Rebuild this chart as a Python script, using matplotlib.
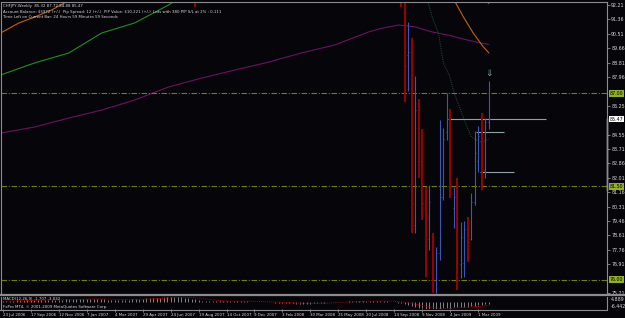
import matplotlib
matplotlib.use('Agg')
import matplotlib.pyplot as plt

# ---- data (week index 0 = 23 Jul 2006) ----
bar_week = [55, 114, 115, 116, 117, 118, 119, 120, 121, 122, 123, 124, 125, 126,
            127, 128, 129, 130, 131, 132, 133, 134, 135, 136, 137, 138, 139]
bar_open = [99.0, 97.0, 94.5, 89.26, 89.4, 79.2, 86.0, 83.0, 80.6, 78.4, 78.6, 76.0, 77.6, 80.9,
            84.71, 85.5, 80.2, 80.9, 76.92, 77.0, 79.05, 78.4, 80.6, 83.0, 84.8, 82.5, 85.32]
bar_high = [99.6, 97.6, 95.0, 91.21, 90.26, 88.02, 86.66, 84.89, 81.47, 81.58, 78.75, 77.92, 85.42, 84.95,
            87.02, 86.07, 81.47, 82.0, 79.4, 79.46, 79.7, 81.11, 84.77, 85.07, 85.83, 85.54, 87.72]
bar_low = [92.09, 92.09, 86.48, 87.13, 78.75, 78.75, 82.0, 79.52, 76.15, 77.75, 75.21, 75.21, 77.16, 80.7,
           84.24, 80.82, 79.05, 75.39, 76.1, 76.15, 77.04, 78.34, 80.4, 82.35, 81.29, 82.0, 84.88]
bar_close = [95.0, 94.5, 88.6, 89.44, 80.5, 86.0, 83.0, 80.5, 78.0, 80.6, 76.0, 77.57, 80.88, 84.3,
             85.5, 81.5, 80.88, 77.0, 78.5, 79.0, 78.0, 80.58, 83.5, 84.5, 82.5, 85.3, 85.47]

# moving averages (hidden parts estimated)
ma_purple_w = [-0.6, 9.1, 18.9, 28.3, 37.7, 47.4, 56.9, 66.3, 76, 85.4, 94.9, 104.6, 108.3,
               113.1, 117.7, 122.6, 127.3, 132, 136.9, 139]
ma_purple_v = [84.65, 85.01, 85.54, 86.01, 86.60, 87.37, 87.90, 88.37, 88.84, 89.38, 89.85, 90.62, 90.83,
               91.03, 90.93, 90.63, 90.44, 90.19, 89.95, 89.89]
ma_green_w = [-0.6, 9.1, 18.9, 28.3, 37.7, 47.4, 49.7, 60, 80, 100, 120, 132, 137.5, 139]
ma_green_v = [88.08, 88.79, 89.38, 90.56, 91.15, 92.21, 92.5, 95.5, 98.0, 99.5, 98.5, 95.0, 92.6, 92.3]
ma_orange_w = [-0.6, 4.6, 9.1, 14.0, 19.1, 30, 60, 90, 110, 125, 129.1, 131.7, 134.6, 137.4, 139]
ma_orange_v = [90.56, 91.15, 91.50, 91.92, 92.5, 95.0, 99.5, 101.0, 101.5, 95.0, 92.5, 91.52, 90.54, 89.75, 89.39]
ma_dark_w = [118, 121.4, 123.1, 124.6, 126.0, 127.7, 129.1, 130.6, 132.0, 134.0, 136.0, 137.4, 139]
ma_dark_v = [96.0, 92.5, 91.32, 90.56, 88.79, 88.08, 87.02, 86.19, 85.42, 84.42, 84.18, 84.12, 84.30]

levels = [87.00, 81.50, 76.00]
seg_level = [85.47, 84.71, 82.35]
seg_start = [127.4, 135.4, 136.6]
seg_end = [155.4, 143.4, 146.3]

price_ticks = [92.21, 91.36, 90.51, 89.66, 88.81, 87.96, 86.25, 84.55, 83.71, 82.86,
               82.01, 81.16, 80.31, 79.46, 78.61, 77.76, 76.91, 75.21]
date_week = [0, 8, 16, 24, 32, 40, 48, 56, 64, 72, 80, 88, 96, 104, 112, 120, 128, 136]
date_labels = ['23 Jul 2006', '17 Sep 2006', '12 Nov 2006', '7 Jan 2007', '4 Mar 2007',
               '29 Apr 2007', '24 Jun 2007', '19 Aug 2007', '14 Oct 2007', '9 Dec 2007',
               '3 Feb 2008', '30 Mar 2008', '25 May 2008', '20 Jul 2008', '14 Sep 2008',
               '9 Nov 2008', '4 Jan 2009', '1 Mar 2009']

macd_main = [1.2, 1.3, 1.4, 1.5, 1.6, 1.6, 1.7, 1.8, 1.8, 1.9,
             2.0, 2.1, 2.2, 2.3, 2.3, 2.4, 2.4, 2.5, 2.6, 2.6,
             2.7, 2.9, 3.0, 3.2, 3.3, 3.3, 3.2, 3.0, 2.8, 2.7,
             2.5, 2.2, 2.0, 2.0, 2.1, 2.3, 2.5, 2.7, 2.9, 3.1,
             3.3, 3.5, 3.7, 3.9, 4.1, 4.3, 4.5, 4.7, 4.8, 4.889,
             4.8, 4.6, 4.3, 3.9, 3.4, 2.6, 1.8, 1.4, 1.1, 0.9,
             0.8, 0.8, 0.9, 1.0, 1.1, 1.2, 1.2, 1.1, 1.0, 0.9,
             0.8, 0.6, 0.5, 0.4, 0.3, 0.2, 0.0, -0.2, -0.4, -0.6,
             -0.8, -1.0, -1.1, -1.2, -1.3, -1.4, -1.5, -1.4, -1.3, -1.1,
             -0.9, -0.7, -0.5, -0.3, -0.1, 0.1, 0.3, 0.5, 0.6, 0.8,
             0.9, 1.0, 1.1, 1.2, 1.2, 1.3, 1.3, 1.2, 1.1, 1.0,
             0.8, 0.5, 0.1, -0.5, -1.2, -2.0, -2.8, -3.8, -4.6, -5.2,
             -5.7, -6.1, -6.3, -6.442, -6.4, -6.1, -5.7, -5.3, -5.1, -4.9,
             -4.8, -4.6, -4.4, -4.1, -3.7, -3.2, -2.7, -2.3, -2.0, -1.707]
macd_signal = [1.0, 1.1, 1.1, 1.2, 1.3, 1.3, 1.4, 1.5, 1.5, 1.6,
               1.7, 1.7, 1.8, 1.9, 2.0, 2.1, 2.1, 2.2, 2.3, 2.4,
               2.4, 2.5, 2.6, 2.7, 2.8, 2.9, 3.0, 3.0, 3.0, 3.0,
               2.9, 2.8, 2.7, 2.6, 2.5, 2.4, 2.3, 2.3, 2.4, 2.5,
               2.6, 2.8, 3.0, 3.2, 3.4, 3.6, 3.8, 4.0, 4.2, 4.4,
               4.5, 4.6, 4.6, 4.5, 4.3, 4.1, 3.8, 3.4, 3.0, 2.6,
               2.2, 1.8, 1.4, 1.1, 1.0, 1.0, 1.0, 1.0, 1.0, 1.0,
               1.0, 0.9, 0.8, 0.7, 0.6, 0.5, 0.4, 0.2, 0.1, -0.1,
               -0.3, -0.5, -0.6, -0.8, -0.9, -1.1, -1.2, -1.3, -1.3, -1.3,
               -1.3, -1.2, -1.1, -0.9, -0.7, -0.5, -0.3, -0.1, 0.1, 0.3,
               0.4, 0.6, 0.7, 0.8, 0.9, 1.0, 1.1, 1.1, 1.2, 1.2,
               1.1, 1.0, 0.9, 0.6, 0.3, -0.1, -0.6, -1.2, -1.9, -2.6,
               -3.3, -4.0, -4.6, -5.1, -5.5, -5.8, -5.9, -5.9, -5.8, -5.6,
               -5.4, -5.2, -5.0, -4.8, -4.6, -4.3, -4.0, -3.7, -3.4, -3.032]

BG = '#06050a'
FG = '#d8d8d8'
GRID = '#8c8c8c'
W, H = 625.0, 318.0

fig = plt.figure(figsize=(6.25, 3.18), dpi=100, facecolor=BG)
ax = fig.add_axes([0.5 / W, (H - 294) / H, 606.5 / W, 292 / H], facecolor=BG)
ax2 = fig.add_axes([0.5 / W, (H - 309) / H, 606.5 / W, 12 / H], facecolor=BG)

xmin, xmax = -0.63, 172.8
for a in (ax, ax2):
    a.set_xlim(xmin, xmax)
    for s in a.spines.values():
        s.set_color(GRID)
        s.set_linewidth(0.8)
ax.spines['bottom'].set_visible(False)
ax2.spines['top'].set_visible(False)
ax2.spines['bottom'].set_visible(False)

# panel separator and bottom line across full width
fig.add_artist(plt.Line2D([0, 1], [(H - 295) / H] * 2, color=GRID, lw=1.6))
fig.add_artist(plt.Line2D([0, 607 / W], [(H - 309.5) / H] * 2, color=GRID, lw=0.8))

ax.set_ylim(75.15, 92.39)

# moving averages
ax.plot(ma_purple_w, ma_purple_v, color='#6c1262', lw=0.8)
ax.plot(ma_green_w, ma_green_v, color='#1f8f1f', lw=0.8)
ax.plot(ma_orange_w, ma_orange_v, color='#c4620e', lw=0.8)
ax.plot(ma_dark_w, ma_dark_v, color='#1d4632', lw=0.8, ls=(0, (1, 1)))

# levels
for lv in levels:
    ax.axhline(lv, color='#6f7e12', lw=0.8, ls=(0, (5, 1.5, 1, 1.5)))
ax.hlines(seg_level, seg_start, seg_end, color='#8aa2aa', lw=0.8)

# OHLC bars
for w, o, h, l, c in zip(bar_week, bar_open, bar_high, bar_low, bar_close):
    col = '#3a58b8' if c >= o else '#a80000'
    lw = 0.8 if c >= o else 1.3
    ax.vlines(w, l, h, color=col, lw=lw)
    ax.hlines(o, w - 0.3, w, color=col, lw=0.7)
    ax.hlines(c, w, w + 0.3, color=col, lw=0.7)

ax.text(bar_week[-1], 88.2, r'$\Downarrow$', color='#7a98a8', fontsize=6.5, ha='center', va='center')

# price axis
ax.yaxis.tick_right()
ax.set_yticks(price_ticks)
ax.set_yticklabels(['%.2f' % v for v in price_ticks])
ax.tick_params(axis='y', colors=GRID, labelcolor=FG, labelsize=3.4, length=2, width=0.6, pad=1)
ax.set_xticks([])
for lv in levels:
    ax.text(1.004, lv, '%.2f' % lv, transform=ax.get_yaxis_transform(), fontsize=3.4, color='black',
            va='center', ha='left', bbox=dict(boxstyle='square,pad=0.15', fc='#8fb123', ec='none'))
ax.text(1.004, bar_close[-1], '%.2f' % bar_close[-1], transform=ax.get_yaxis_transform(), fontsize=3.4,
        color='black', va='center', ha='left', bbox=dict(boxstyle='square,pad=0.15', fc='white', ec='none'))
ax.plot([1.0, 1.0], [bar_close[-1], 81.3], transform=ax.get_yaxis_transform(), color='white',
        lw=1.0, clip_on=False)

# header (dollar signs escaped so they are not read as mathtext)
hdr = ['CHFJPY,Weekly  85.32 87.72 84.88 85.47',
       r'Account Balance: \$5972 (+/-)  Pip Spread: 12 (+/-)  PIP Value: \$10.221 (+/-)  Lots with 380 PIP S/L at 2% : 0.111',
       'Time Left on Current Bar: 24 Hours 59 Minutes 59 Seconds']
for i, t in enumerate(hdr):
    ax.text(0.004, 0.993 - i * 0.0195, t, transform=ax.transAxes, fontsize=2.8, color=FG, va='top')

# MACD sub window
ax2.vlines(range(len(macd_main)), 0, macd_main, color='#b4b4b4', lw=0.5)
ax2.plot(range(len(macd_signal)), macd_signal, color='#b00000', lw=0.7, ls=(0, (1, 1)))
ax2.set_ylim(-6.442, 4.889)
ax2.set_yticks([])
ax2.text(1.006, 1.0, '4.889', transform=ax2.transAxes, fontsize=3.4, color=FG, va='top', ha='left')
ax2.text(1.006, 0.0, '-6.442', transform=ax2.transAxes, fontsize=3.4, color=FG, va='bottom', ha='left')
ax2.set_xticks(date_week)
ax2.set_xticklabels(date_labels, ha='left')
ax2.tick_params(axis='x', colors=GRID, labelcolor=FG, labelsize=2.9, length=2, width=0.6, pad=1)
ax2.text(0.004, 0.98, 'MACD(12,26,9) -1.707 -3.032', transform=ax2.transAxes, fontsize=2.8,
         color=FG, va='top')
ax2.text(0.004, 0.3, 'FxPro MT4, \u00a9 2001-2009 MetaQuotes Software Corp.', transform=ax2.transAxes,
         fontsize=2.8, color=FG, va='top')

fig.savefig('out.png', dpi=100, facecolor=BG)
